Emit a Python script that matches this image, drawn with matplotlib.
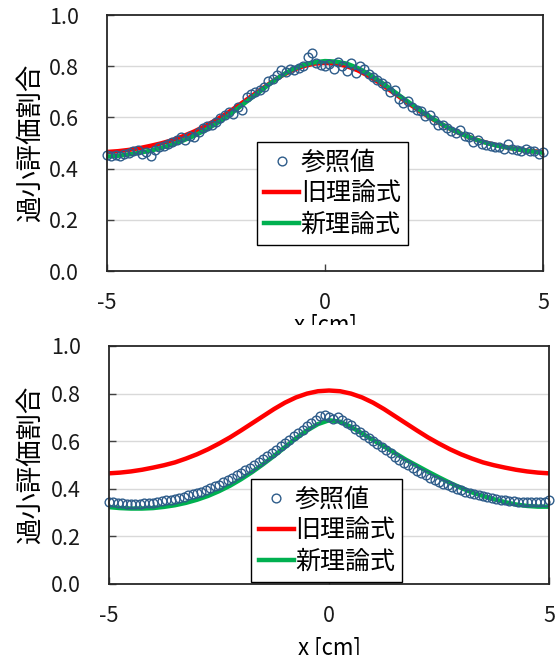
import numpy as np
import matplotlib
matplotlib.use('Agg')
import matplotlib.pyplot as plt
from matplotlib.patches import Rectangle
from matplotlib.lines import Line2D

plt.rcParams['font.family'] = ['Noto Sans CJK JP', 'DejaVu Sans']

# ---------------- data ----------------
x_theory = [-5.0, -4.75, -4.5, -4.25, -4.0, -3.75, -3.5, -3.25, -3.0, -2.75,
            -2.5, -2.25, -2.0, -1.75, -1.5, -1.25, -1.0, -0.75, -0.5, -0.25,
            0.0, 0.25, 0.5, 0.75, 1.0, 1.25, 1.5, 1.75, 2.0, 2.25,
            2.5, 2.75, 3.0, 3.25, 3.5, 3.75, 4.0, 4.25, 4.5, 4.75, 5.0]

old_theory = [0.465, 0.468, 0.473, 0.480, 0.489, 0.499, 0.511, 0.527, 0.545, 0.566,
              0.590, 0.616, 0.645, 0.675, 0.705, 0.735, 0.762, 0.784, 0.800, 0.810,
              0.813, 0.810, 0.800, 0.784, 0.762, 0.735, 0.705, 0.675, 0.645, 0.616,
              0.590, 0.566, 0.545, 0.527, 0.511, 0.499, 0.489, 0.480, 0.473, 0.468, 0.465]

new_theory_top = [0.447, 0.450, 0.455, 0.462, 0.470, 0.481, 0.494, 0.510, 0.528, 0.550,
                  0.575, 0.603, 0.635, 0.668, 0.700, 0.733, 0.763, 0.788, 0.805, 0.815,
                  0.820, 0.818, 0.810, 0.793, 0.770, 0.742, 0.712, 0.680, 0.650, 0.620,
                  0.592, 0.567, 0.545, 0.527, 0.511, 0.498, 0.488, 0.480, 0.473, 0.467, 0.462]

new_theory_bottom = [0.323, 0.319, 0.317, 0.317, 0.319, 0.324, 0.331, 0.341, 0.354, 0.370,
                     0.390, 0.413, 0.440, 0.470, 0.503, 0.538, 0.575, 0.612, 0.645, 0.672,
                     0.688, 0.682, 0.660, 0.633, 0.605, 0.578, 0.550, 0.522, 0.497, 0.472,
                     0.448, 0.425, 0.404, 0.385, 0.370, 0.356, 0.344, 0.334, 0.328, 0.325, 0.325]

ref_top = [0.452, 0.448, 0.455, 0.450, 0.458, 0.462, 0.470, 0.474, 0.458, 0.466,
           0.448, 0.472, 0.485, 0.490, 0.498, 0.504, 0.512, 0.522, 0.510, 0.528,
           0.524, 0.543, 0.558, 0.566, 0.570, 0.583, 0.598, 0.608, 0.620, 0.615,
           0.640, 0.630, 0.680, 0.692, 0.700, 0.708, 0.720, 0.742, 0.750, 0.766,
           0.785, 0.778, 0.790, 0.787, 0.794, 0.800, 0.835, 0.853, 0.812, 0.805,
           0.800, 0.808, 0.790, 0.815, 0.800, 0.780, 0.812, 0.775, 0.800, 0.790,
           0.768, 0.756, 0.748, 0.735, 0.722, 0.700, 0.707, 0.670, 0.658, 0.665,
           0.640, 0.630, 0.625, 0.606, 0.610, 0.588, 0.570, 0.572, 0.560, 0.545,
           0.538, 0.550, 0.528, 0.522, 0.505, 0.510, 0.498, 0.492, 0.490, 0.486,
           0.484, 0.476, 0.495, 0.478, 0.472, 0.470, 0.478, 0.468, 0.470, 0.458,
           0.465]

ref_bottom = [0.345, 0.343, 0.342, 0.340, 0.338, 0.337, 0.338, 0.337, 0.340, 0.342,
              0.342, 0.346, 0.348, 0.352, 0.354, 0.357, 0.362, 0.366, 0.372, 0.377,
              0.382, 0.388, 0.395, 0.402, 0.410, 0.418, 0.427, 0.436, 0.446, 0.456,
              0.466, 0.477, 0.488, 0.500, 0.512, 0.525, 0.538, 0.551, 0.565, 0.578,
              0.592, 0.606, 0.620, 0.634, 0.648, 0.662, 0.676, 0.690, 0.705, 0.712,
              0.702, 0.695, 0.700, 0.690, 0.678, 0.666, 0.652, 0.638, 0.625, 0.613,
              0.602, 0.590, 0.577, 0.563, 0.549, 0.535, 0.522, 0.510, 0.498, 0.487,
              0.476, 0.466, 0.456, 0.447, 0.438, 0.430, 0.422, 0.414, 0.407, 0.400,
              0.394, 0.388, 0.382, 0.377, 0.372, 0.368, 0.364, 0.360, 0.357, 0.354,
              0.352, 0.350, 0.348, 0.346, 0.345, 0.344, 0.343, 0.344, 0.343, 0.345,
              0.352]

x_ref_top = np.linspace(-5, 5, len(ref_top))
x_ref_bottom = np.linspace(-5, 5, len(ref_bottom))

legend_labels = ['参照値', '旧理論式', '新理論式']
y_label = '過小評価割合'
x_label = 'x [cm]'
x_ticks = [-5, 0, 5]
x_tick_labels = ['-5', '0', '5']
y_ticks = [0.0, 0.2, 0.4, 0.6, 0.8, 1.0]
y_tick_labels = ['0.0', '0.2', '0.4', '0.6', '0.8', '1.0']

# ---------------- styles ----------------
W, H = 560, 655
RED = '#FF0000'
GREEN = '#00B050'
BLUE = '#2E5C8A'
GRID = '#D9D9D9'

fig = plt.figure(figsize=(W / 100, H / 100), dpi=100)


def px_axes(left, top, right, bottom):
    return fig.add_axes([left / W, 1 - bottom / H, (right - left) / W, (bottom - top) / H])


def draw_panel(ax, ref_x, ref_y, new_y, legend_anchor):
    ax.plot(x_theory, old_theory, color=RED, lw=3.2, solid_capstyle='round', zorder=3)
    ax.plot(x_theory, new_y, color=GREEN, lw=3.2, solid_capstyle='round', zorder=3)
    ax.plot(ref_x, ref_y, ls='none', marker='o', ms=6.3, mfc='none', mec=BLUE,
            mew=1.0, zorder=4, clip_on=False)
    ax.set_xlim(-5, 5)
    ax.set_ylim(0, 1)
    ax.set_xticks(x_ticks)
    ax.set_xticklabels(x_tick_labels)
    ax.set_yticks(y_ticks)
    ax.set_yticklabels(y_tick_labels)
    for yv in y_ticks[1:-1]:
        ax.axhline(yv, color=GRID, lw=1.0, zorder=1)
    for s in ax.spines.values():
        s.set_color('#262626')
        s.set_linewidth(1.3)
        s.set_zorder(5)
    ax.tick_params(axis='both', direction='in', length=5, width=1, color='#404040',
                   labelsize=15.5, labelcolor='#1a1a1a')
    ax.tick_params(axis='y', pad=20)
    ax.tick_params(axis='x', pad=15)
    handles = [
        Line2D([], [], ls='none', marker='o', ms=6.3, mfc='none', mec=BLUE, mew=1.0),
        Line2D([], [], color=RED, lw=3.2),
        Line2D([], [], color=GREEN, lw=3.2),
    ]
    leg = ax.legend(handles, legend_labels, loc='lower left', bbox_to_anchor=legend_anchor,
                    bbox_transform=ax.transAxes, borderaxespad=0, fontsize=18,
                    handlelength=1.4, handletextpad=0.05, borderpad=0.3,
                    labelspacing=0.2, fancybox=False, framealpha=1, edgecolor='black')
    leg.get_frame().set_linewidth(1.0)
    leg.set_zorder(6)


ax1 = px_axes(107, 15, 543, 271)
draw_panel(ax1, x_ref_top, ref_top, new_theory_top, (0.344, 0.10))
ax2 = px_axes(109, 346, 549, 584)
draw_panel(ax2, x_ref_bottom, ref_bottom, new_theory_bottom, (0.323, 0.008))

# y labels
fig.text(30 / W, 1 - 143 / H, y_label, rotation=90, ha='center', va='center', fontsize=19)
fig.text(30 / W, 1 - 465 / H, y_label, rotation=90, ha='center', va='center', fontsize=19)

# x labels (partially cut off as in the reference)
fig.text(325 / W, 1 - 314 / H, x_label, ha='center', va='top', fontsize=16)
fig.text(329 / W, 1 - 637 / H, x_label, ha='center', va='top', fontsize=16)
fig.add_artist(Rectangle((250 / W, 1 - 339 / H), 150 / W, 14 / H,
                         transform=fig.transFigure, facecolor='white', edgecolor='none',
                         zorder=20))

fig.savefig('out.png', dpi=100)
